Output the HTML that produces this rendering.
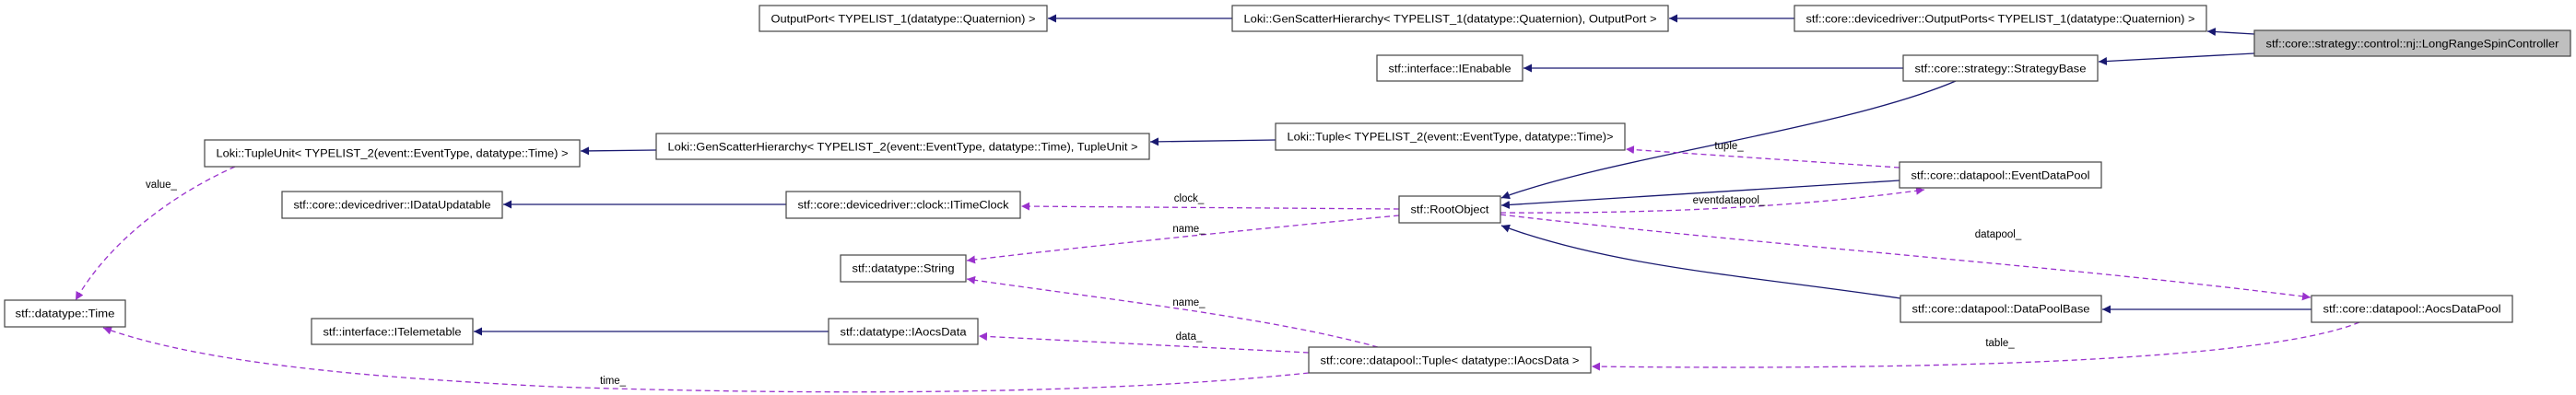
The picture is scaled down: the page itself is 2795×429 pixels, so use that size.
<!DOCTYPE html>
<html><head><meta charset="utf-8"><style>
html,body{margin:0;padding:0;background:#fff;}
svg{display:block;}
text{font-family:"Liberation Sans",Arial,sans-serif;font-size:11.5px;fill:#000;}
.b{fill:#fff;stroke:#444;stroke-width:1.2;}
.s{fill:none;stroke:#191970;stroke-width:1.3;}
.d{fill:none;stroke:#9a32cd;stroke-width:1.3;stroke-dasharray:6,4;}
</style></head><body>
<svg width="2795" height="429" viewBox="0 0 2795 429" xmlns="http://www.w3.org/2000/svg">
<defs>
<marker id="as" viewBox="0 0 10 10" refX="10" refY="5" markerWidth="9" markerHeight="9" markerUnits="userSpaceOnUse" orient="auto"><path d="M0,0 L10,5 L0,10 z" fill="#191970"/></marker>
<marker id="ad" viewBox="0 0 10 10" refX="10" refY="5" markerWidth="9" markerHeight="9" markerUnits="userSpaceOnUse" orient="auto"><path d="M0,0 L10,5 L0,10 z" fill="#9a32cd"/></marker>
</defs>

<!-- solid edges -->
<path class="s" d="M1337,20 L1137,20" marker-end="url(#as)"/>
<path class="s" d="M1947,20 L1811,20" marker-end="url(#as)"/>
<path class="s" d="M2446,37 L2395,34" marker-end="url(#as)"/>
<path class="s" d="M2446,58 L2277,67" marker-end="url(#as)"/>
<path class="s" d="M2065,74 L1653,74" marker-end="url(#as)"/>
<path class="s" d="M2122,88 C2000,140 1750,170 1629,215" marker-end="url(#as)"/>
<path class="s" d="M1384,152 L1248,154" marker-end="url(#as)"/>
<path class="s" d="M712,163 L630,164" marker-end="url(#as)"/>
<path class="s" d="M853,222 L546,222" marker-end="url(#as)"/>
<path class="s" d="M899,360 L514,360" marker-end="url(#as)"/>
<path class="s" d="M2061,196 L1629,223" marker-end="url(#as)"/>
<path class="s" d="M2062,324 C1900,300 1750,290 1629,245" marker-end="url(#as)"/>
<path class="s" d="M2508,336 L2281,336" marker-end="url(#as)"/>

<!-- dashed edges -->
<path class="d" d="M255,181 C190,210 120,260 82,326" marker-end="url(#ad)"/>
<path class="d" d="M1420,405 C1200,428 900,430 600,420 C400,410 220,395 112,356" marker-end="url(#ad)"/>
<path class="d" d="M1420,383 L1062,365" marker-end="url(#ad)"/>
<path class="d" d="M1495,377 C1380,345 1200,325 1049,303" marker-end="url(#ad)"/>
<path class="d" d="M1518,234 C1400,245 1200,265 1049,283" marker-end="url(#ad)"/>
<path class="d" d="M1518,227 L1108,224" marker-end="url(#ad)"/>
<path class="d" d="M2061,182 L1764,162" marker-end="url(#ad)"/>
<path class="d" d="M1628,231 C1800,232 1950,225 2088,206" marker-end="url(#ad)"/>
<path class="d" d="M1628,233 C1900,265 2250,290 2507,323" marker-end="url(#ad)"/>
<path class="d" d="M2560,350 C2450,395 2050,402 1727,398" marker-end="url(#ad)"/>

<!-- edge labels -->
<text x="175" y="204" text-anchor="middle">value_</text>
<text x="665" y="417" text-anchor="middle">time_</text>
<text x="1290" y="369" text-anchor="middle">data_</text>
<text x="1290" y="332" text-anchor="middle">name_</text>
<text x="1290" y="252" text-anchor="middle">name_</text>
<text x="1290" y="219" text-anchor="middle">clock_</text>
<text x="1876" y="162" text-anchor="middle">tuple_</text>
<text x="1876" y="221" text-anchor="middle">eventdatapool_</text>
<text x="2168" y="258" text-anchor="middle">datapool_</text>
<text x="2170" y="376" text-anchor="middle">table_</text>

<!-- nodes -->
<g>
<rect class="b" x="824" y="6" width="312" height="28"/><text x="980" y="24.5" text-anchor="middle" textLength="287" lengthAdjust="spacingAndGlyphs">OutputPort&lt; TYPELIST_1(datatype::Quaternion) &gt;</text>
<rect class="b" x="1337" y="6" width="473" height="28"/><text x="1573.5" y="24.5" text-anchor="middle" textLength="448" lengthAdjust="spacingAndGlyphs">Loki::GenScatterHierarchy&lt; TYPELIST_1(datatype::Quaternion), OutputPort &gt;</text>
<rect class="b" x="1947" y="6" width="447" height="28"/><text x="2170.5" y="24.5" text-anchor="middle" textLength="422" lengthAdjust="spacingAndGlyphs">stf::core::devicedriver::OutputPorts&lt; TYPELIST_1(datatype::Quaternion) &gt;</text>
<rect x="2446" y="33" width="343" height="28" fill="#bfbfbf" stroke="#444" stroke-width="1.2"/><text x="2617.5" y="51.5" text-anchor="middle" textLength="318" lengthAdjust="spacingAndGlyphs">stf::core::strategy::control::nj::LongRangeSpinController</text>
<rect class="b" x="1494" y="60" width="158" height="28"/><text x="1573" y="78.5" text-anchor="middle" textLength="133" lengthAdjust="spacingAndGlyphs">stf::interface::IEnabable</text>
<rect class="b" x="2065" y="60" width="211" height="28"/><text x="2170.5" y="78.5" text-anchor="middle" textLength="186" lengthAdjust="spacingAndGlyphs">stf::core::strategy::StrategyBase</text>
<rect class="b" x="1384" y="134" width="379" height="29"/><text x="1573.5" y="152.5" text-anchor="middle" textLength="354" lengthAdjust="spacingAndGlyphs">Loki::Tuple&lt; TYPELIST_2(event::EventType, datatype::Time)&gt;</text>
<rect class="b" x="712" y="145" width="535" height="28"/><text x="979.5" y="163.5" text-anchor="middle" textLength="510" lengthAdjust="spacingAndGlyphs">Loki::GenScatterHierarchy&lt; TYPELIST_2(event::EventType, datatype::Time), TupleUnit &gt;</text>
<rect class="b" x="222" y="152" width="407" height="29"/><text x="425.5" y="170.5" text-anchor="middle" textLength="382" lengthAdjust="spacingAndGlyphs">Loki::TupleUnit&lt; TYPELIST_2(event::EventType, datatype::Time) &gt;</text>
<rect class="b" x="2061" y="176" width="219" height="28"/><text x="2170.5" y="194.5" text-anchor="middle" textLength="194" lengthAdjust="spacingAndGlyphs">stf::core::datapool::EventDataPool</text>
<rect class="b" x="306" y="208" width="239" height="29"/><text x="425.5" y="226.5" text-anchor="middle" textLength="214" lengthAdjust="spacingAndGlyphs">stf::core::devicedriver::IDataUpdatable</text>
<rect class="b" x="853" y="208" width="254" height="29"/><text x="980" y="226.5" text-anchor="middle" textLength="229" lengthAdjust="spacingAndGlyphs">stf::core::devicedriver::clock::ITimeClock</text>
<rect class="b" x="1518" y="213" width="110" height="29"/><text x="1573" y="231.5" text-anchor="middle" textLength="85" lengthAdjust="spacingAndGlyphs">stf::RootObject</text>
<rect class="b" x="912" y="277" width="136" height="29"/><text x="980" y="295.5" text-anchor="middle" textLength="111" lengthAdjust="spacingAndGlyphs">stf::datatype::String</text>
<rect class="b" x="2062" y="321" width="218" height="29"/><text x="2171" y="339.5" text-anchor="middle" textLength="193" lengthAdjust="spacingAndGlyphs">stf::core::datapool::DataPoolBase</text>
<rect class="b" x="2508" y="321" width="218" height="29"/><text x="2617" y="339.5" text-anchor="middle" textLength="193" lengthAdjust="spacingAndGlyphs">stf::core::datapool::AocsDataPool</text>
<rect class="b" x="5" y="326" width="131" height="29"/><text x="70.5" y="344.5" text-anchor="middle" textLength="108" lengthAdjust="spacingAndGlyphs">stf::datatype::Time</text>
<rect class="b" x="338" y="346" width="175" height="28"/><text x="425.5" y="364.5" text-anchor="middle" textLength="150" lengthAdjust="spacingAndGlyphs">stf::interface::ITelemetable</text>
<rect class="b" x="899" y="346" width="162" height="28"/><text x="980" y="364.5" text-anchor="middle" textLength="137" lengthAdjust="spacingAndGlyphs">stf::datatype::IAocsData</text>
<rect class="b" x="1420" y="377" width="306" height="28"/><text x="1573" y="395.5" text-anchor="middle" textLength="281" lengthAdjust="spacingAndGlyphs">stf::core::datapool::Tuple&lt; datatype::IAocsData &gt;</text>
</g>
</svg>
</body></html>
